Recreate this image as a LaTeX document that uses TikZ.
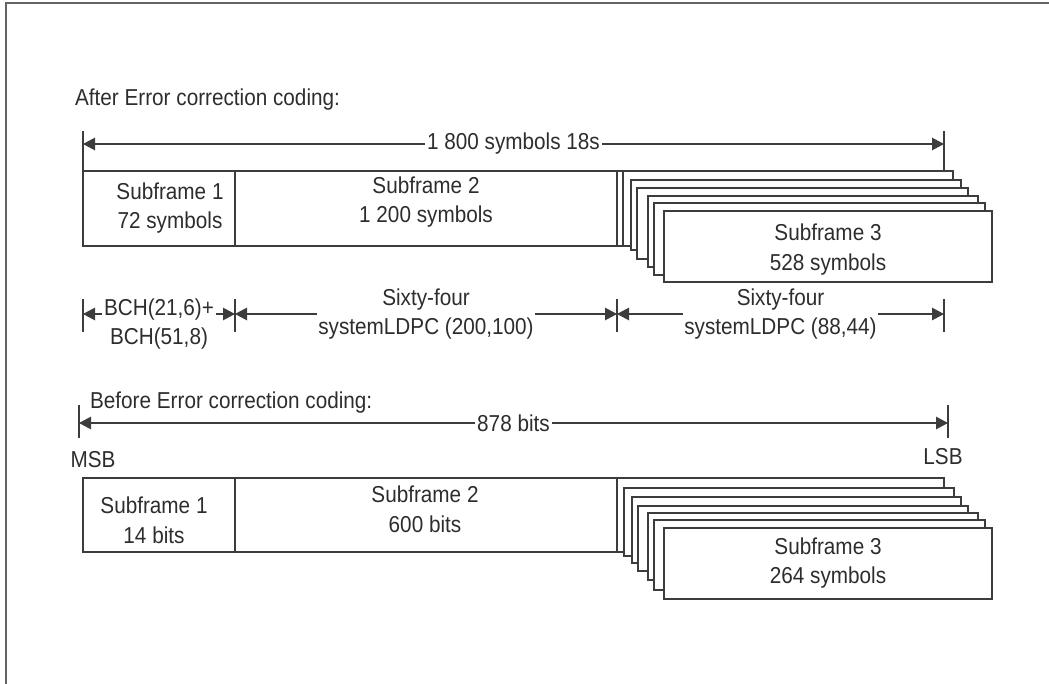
\documentclass[tikz,border=0pt]{standalone}
\usepackage{fontspec}
\setmainfont[FakeStretch=0.9]{Liberation Sans}
\usepackage{tikz}
\usetikzlibrary{arrows.meta}
\definecolor{lnGray}{RGB}{60,60,60}
\definecolor{txGray}{RGB}{45,45,45}
\definecolor{frmGray}{RGB}{100,100,100}

\begin{document}
\begin{tikzpicture}[
    txt/.style={font=\fontsize{13.1}{17}\selectfont, text=txGray, inner sep=1pt, align=center},
    box/.style={draw=lnGray, line width=0.7pt},
    card/.style={draw=lnGray, fill=white, line width=0.6pt},
    tick/.style={draw=lnGray, line width=0.7pt},
    dim/.style={{Triangle[length=2.4mm,width=2.5mm]}-{Triangle[length=2.4mm,width=2.5mm]}, line width=0.7pt, lnGray},
    lbl/.style={txt, fill=white},
]
\useasboundingbox (0,0) rectangle (20.98,-13.68);

% outer frame (only top and left edges show)
\draw[frmGray, line width=0.8pt] (0.12,-13.68) -- (0.12,-0.06) -- (20.98,-0.06);

% ========== AFTER error correction coding ==========
\node[txt, anchor=west] at (1.46,-2.0) (afterTxt) {After Error correction coding:};

\coordinate (topL) at (1.66,-2.88);
\coordinate (topR) at (18.88,-2.88);
\draw[tick] ([yshift=0.26cm]topL) -- ([yshift=-0.54cm]topL);
\draw[tick] ([yshift=0.26cm]topR) -- ([yshift=-0.54cm]topR);
\draw[dim] (topL) -- node[lbl] (symLbl) {1 800 symbols 18s} (topR);

% stacked subframe 3 cards
\foreach \xa/\ya/\xb/\yb in {12.34/-3.42/19.06/-4.92, 12.46/-3.42/19.06/-4.92, 12.62/-3.60/19.22/-5.00,
    12.74/-3.76/19.36/-5.18, 12.96/-3.92/19.56/-5.34, 13.08/-4.06/19.70/-5.50, 13.28/-4.22/19.84/-5.64}
  \filldraw[card] (\xa,\ya) rectangle (\xb,\yb);

\draw[box] (1.66,-3.42) rectangle (12.34,-4.92);
\draw[box] (4.70,-3.42) -- (4.70,-4.92);

\node[txt] at (3.40,-4.16) (sfA1) {Subframe 1\\72 symbols};
\node[txt] at (8.52,-4.04) (sfA2) {Subframe 2\\1 200 symbols};
\node[txt] at (16.56,-4.99) (sfA3) {Subframe 3\\528 symbols};

% ========== code split ==========
\coordinate (cdA) at (1.66,-6.28);
\coordinate (cdB) at (4.70,-6.28);
\coordinate (cdC) at (12.34,-6.28);
\coordinate (cdD) at (18.88,-6.28);
\foreach \c in {cdA,cdB,cdC,cdD}
  \draw[tick] ([yshift=0.30cm]\c) -- ([yshift=-0.36cm]\c);

\draw[dim] (cdA) -- node[lbl, yshift=-0.2cm] (bchLbl) {BCH(21,6)+\\BCH(51,8)} (cdB);
\draw[dim] (cdB) -- node[lbl] (ldpcA) {Sixty-four\\systemLDPC (200,100)} (cdC);
\draw[dim] (cdC) -- node[lbl] (ldpcB) {Sixty-four\\systemLDPC (88,44)} (cdD);

% ========== BEFORE error correction coding ==========
\node[txt, anchor=west] at (1.76,-8.06) (beforeTxt) {Before Error correction coding:};

\coordinate (botL) at (1.58,-8.46);
\coordinate (botR) at (18.96,-8.46);
\draw[tick] ([yshift=0.36cm]botL) -- ([yshift=-0.30cm]botL);
\draw[tick] ([yshift=0.36cm]botR) -- ([yshift=-0.30cm]botR);
\draw[dim] (botL) -- node[lbl] (bitLbl) {878 bits} (botR);

\node[txt] at (1.86,-9.20) (msb) {MSB};
\node[txt] at (18.86,-9.14) (lsb) {LSB};

% stacked subframe 3 cards
\foreach \xa/\ya/\xb/\yb in {12.34/-9.56/18.88/-11.04, 12.48/-9.76/19.08/-11.12, 12.64/-9.94/19.22/-11.26,
    12.76/-10.12/19.36/-11.42, 12.96/-10.26/19.56/-11.60, 13.08/-10.40/19.70/-11.80, 13.28/-10.56/19.84/-11.98}
  \filldraw[card] (\xa,\ya) rectangle (\xb,\yb);

\draw[box] (1.66,-9.56) rectangle (12.34,-11.04);
\draw[box] (4.70,-9.56) -- (4.70,-11.04);

\node[txt] at (3.08,-10.40) (sfB1) {Subframe 1\\14 bits};
\node[txt] at (8.50,-10.18) (sfB2) {Subframe 2\\600 bits};
\node[txt] at (16.56,-11.26) (sfB3) {Subframe 3\\264 symbols};

\end{tikzpicture}
\end{document}
